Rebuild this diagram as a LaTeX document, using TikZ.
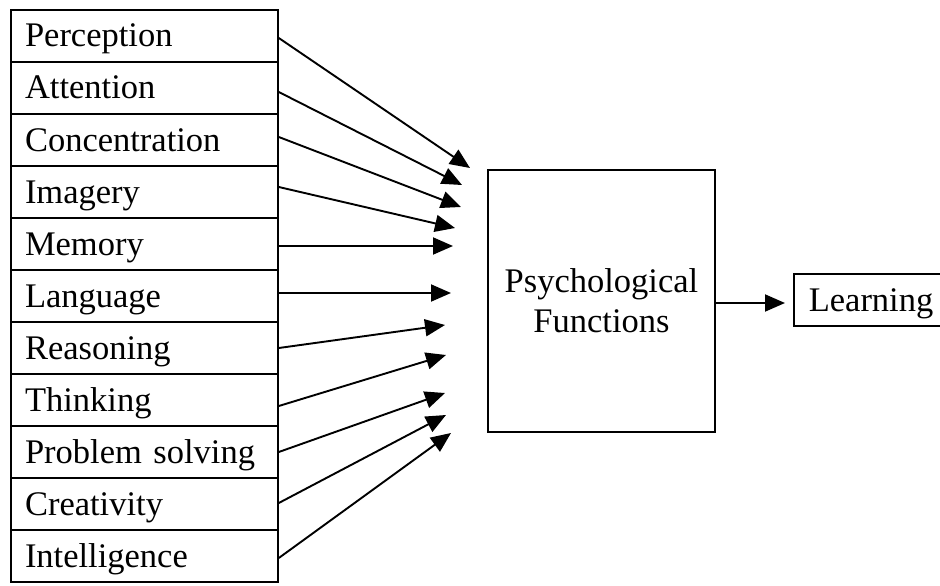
\documentclass[tikz,border=0pt]{standalone}
\usepackage{fontspec}
\setmainfont{Liberation Serif}
\usetikzlibrary{arrows.meta,calc}
\begin{document}
\begin{tikzpicture}[x=1pt,y=-1pt,
  lw/.style={line width=1.6pt},
  rowbox/.style={draw,lw,minimum width=267pt,minimum height=52pt,text width=239pt,
     inner xsep=14pt,inner ysep=0pt,align=left,text height=24pt,text depth=2pt,
     font=\fontsize{34.5pt}{40pt}\selectfont},
  bigbox/.style={draw,lw,minimum width=227pt,minimum height=262pt,align=center,
     font=\fontsize{34.5pt}{40pt}\selectfont},
  outbox/.style={draw,lw,minimum height=52pt,text width=131pt,inner xsep=8.5pt,inner ysep=0pt,
     align=right,text height=24pt,text depth=2pt,font=\fontsize{34.5pt}{40pt}\selectfont},
  arr/.style={line width=1.9pt,-{Triangle[length=20pt,width=17pt]}}]
\useasboundingbox[fill=white] (0,0) rectangle (940,586);
\node[rowbox] (r1)  at (144.5,36)  {Perception};
\node[rowbox] (r2)  at (144.5,88)  {Attention};
\node[rowbox] (r3)  at (144.5,140) {Concentration};
\node[rowbox] (r4)  at (144.5,192) {Imagery};
\node[rowbox] (r5)  at (144.5,244) {Memory};
\node[rowbox] (r6)  at (144.5,296) {Language};
\node[rowbox] (r7)  at (144.5,348) {Reasoning};
\node[rowbox] (r8)  at (144.5,400) {Thinking};
\node[rowbox] (r9)  at (144.5,452) {Problem solving};
\node[rowbox] (r10) at (144.5,504) {Creativity};
\node[rowbox] (r11) at (144.5,556) {Intelligence};
\node[bigbox] (pf) at (601.5,301) {Psychological\\Functions};
\node[outbox,anchor=west] (learn) at (793,300) {Learning};
\coordinate (t1) at (470,168);
\coordinate (t2) at (462,185);
\coordinate (t3) at (461,207);
\coordinate (t4) at (455,228);
\coordinate (t5) at (453,246);
\coordinate (t6) at (451,293);
\coordinate (t7) at (445,325);
\coordinate (t8) at (446,355);
\coordinate (t9) at (445,393);
\coordinate (t10) at (446,415);
\coordinate (t11) at (451,433);
\draw[arr] ($(r1.east)+(0,2)$) -- (t1);
\draw[arr] ($(r2.east)+(0,4)$) -- (t2);
\draw[arr] ($(r3.east)+(0,-3)$) -- (t3);
\draw[arr] ($(r4.east)+(0,-5)$) -- (t4);
\draw[arr] ($(r5.east)+(0,2)$) -- (t5);
\draw[arr] ($(r6.east)+(0,-3)$) -- (t6);
\draw[arr] (r7.east) -- (t7);
\draw[arr] ($(r8.east)+(0,6)$) -- (t8);
\draw[arr] (r9.east) -- (t9);
\draw[arr] ($(r10.east)+(0,-1)$) -- (t10);
\draw[arr] ($(r11.east)+(0,2)$) -- (t11);
\draw[arr,shorten >=8pt] ($(pf.east)+(0,2)$) -- ($(learn.west)+(0,3)$);
\end{tikzpicture}
\end{document}
